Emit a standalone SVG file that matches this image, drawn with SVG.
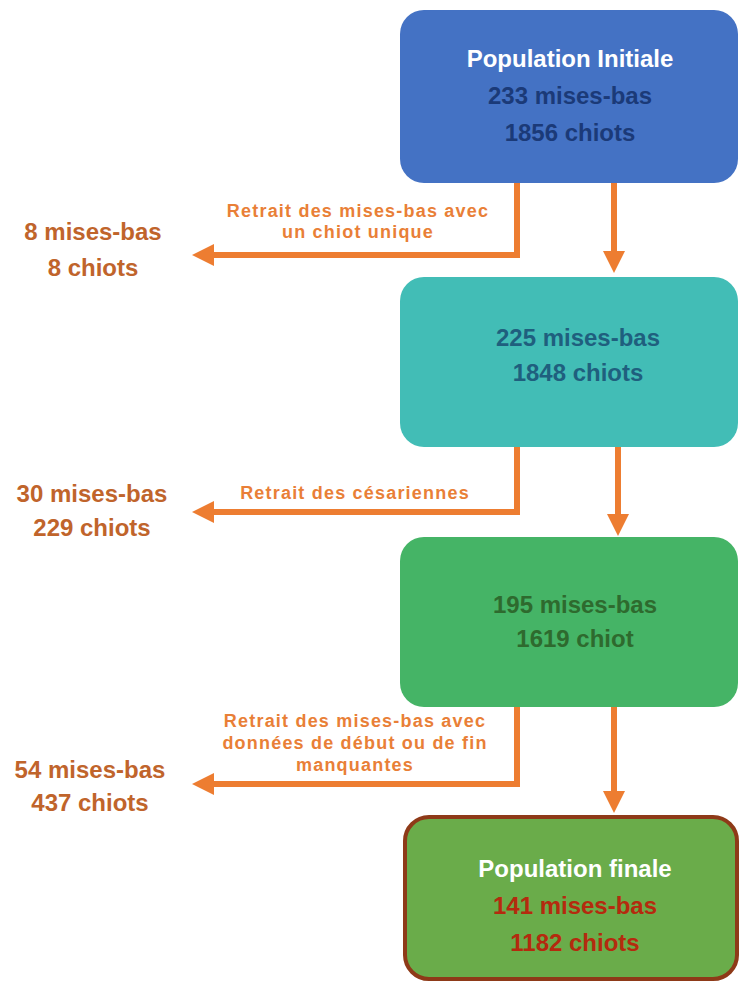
<svg xmlns="http://www.w3.org/2000/svg" width="740" height="983" viewBox="0 0 740 983">
<defs>
<style>
.t{font-family:"Liberation Sans",Arial,sans-serif;font-weight:bold;text-anchor:middle}
.bx{font-size:24px}
.lb{font-size:18px;letter-spacing:1.2px;fill:#E97F37}
.side{font-size:24px;fill:#C0642B}
.w{fill:#FFFFFF}
.ln{fill:none;stroke:#ED7D31;stroke-width:6}
.hd{fill:#ED7D31}
</style>
</defs>
<rect width="740" height="983" fill="#FFFFFF"/>
<g id="connectors">
<path class="ln" d="M614,183 V252"/>
<polygon class="hd" points="603,251 625,251 614,273"/>
<path class="ln" d="M517,183 V255 H212"/>
<polygon class="hd" points="214,244 214,266 192,255"/>
<path class="ln" d="M618,447 V515"/>
<polygon class="hd" points="607,514 629,514 618,536"/>
<path class="ln" d="M517,447 V512 H212"/>
<polygon class="hd" points="214,501 214,523 192,512"/>
<path class="ln" d="M614,707 V792"/>
<polygon class="hd" points="603,791 625,791 614,813"/>
<path class="ln" d="M517,707 V784 H212"/>
<polygon class="hd" points="214,773 214,795 192,784"/>
</g>
<g id="n1">
<rect x="400" y="10" width="338" height="173" rx="24" fill="#4472C4"/>
<text class="t bx w" x="570" y="67">Population Initiale</text>
<text class="t bx" x="570" y="104" fill="#1B3A78">233 mises-bas</text>
<text class="t bx" x="570" y="141" fill="#1B3A78">1856 chiots</text>
</g>
<g id="n2">
<rect x="400" y="277" width="338" height="170" rx="24" fill="#42BDB6"/>
<text class="t bx" x="578" y="346" fill="#1F5F7E">225 mises-bas</text>
<text class="t bx" x="578" y="381" fill="#1F5F7E">1848 chiots</text>
</g>
<g id="n3">
<rect x="400" y="537" width="338" height="170" rx="24" fill="#45B466"/>
<text class="t bx" x="575" y="613" fill="#2E6A2E">195 mises-bas</text>
<text class="t bx" x="575" y="647" fill="#2E6A2E">1619 chiot</text>
</g>
<g id="n4">
<rect x="405" y="817" width="332" height="162" rx="24" fill="#6AAC4A" stroke="#8E3A18" stroke-width="4"/>
<text class="t bx w" x="575" y="877">Population finale</text>
<text class="t bx" x="575" y="914" fill="#B52A0E">141 mises-bas</text>
<text class="t bx" x="575" y="951" fill="#B52A0E">1182 chiots</text>
</g>
<g id="l1">
<text class="t lb" x="358" y="217">Retrait des mises-bas avec</text>
<text class="t lb" x="358" y="238">un chiot unique</text>
</g>
<g id="s1">
<text class="t side" x="93" y="240">8 mises-bas</text>
<text class="t side" x="93" y="276">8 chiots</text>
</g>
<g id="l2">
<text class="t lb" x="355" y="499">Retrait des césariennes</text>
</g>
<g id="s2">
<text class="t side" x="92" y="502">30 mises-bas</text>
<text class="t side" x="92" y="536">229 chiots</text>
</g>
<g id="l3">
<text class="t lb" x="355" y="727">Retrait des mises-bas avec</text>
<text class="t lb" x="355" y="749">données de début ou de fin</text>
<text class="t lb" x="355" y="771">manquantes</text>
</g>
<g id="s3">
<text class="t side" x="90" y="778">54 mises-bas</text>
<text class="t side" x="90" y="811">437 chiots</text>
</g>
</svg>
